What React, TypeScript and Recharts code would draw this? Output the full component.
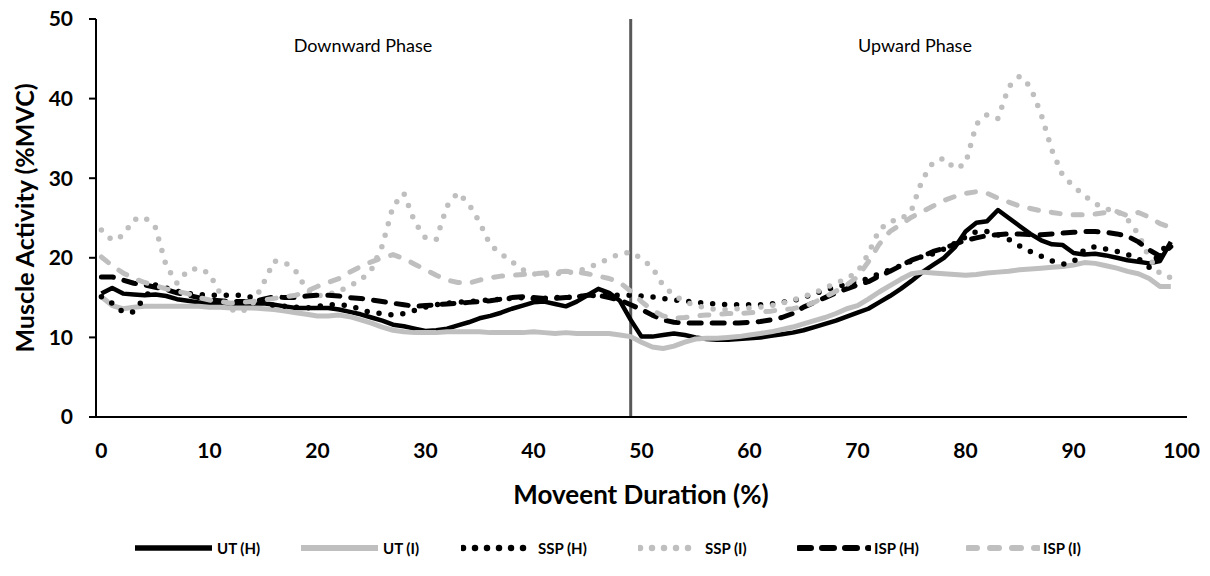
import React from 'react';
import { LineChart, Line, XAxis, YAxis, ReferenceLine } from 'recharts';

const X = [0,1,2,3,4,5,6,7,8,9,10,11,12,13,14,15,16,17,18,19,20,21,22,23,24,25,26,27,28,29,30,31,32,33,34,35,36,37,38,39,40,41,42,43,44,45,46,47,48,49,50,51,52,53,54,55,56,57,58,59,60,61,62,63,64,65,66,67,68,69,70,71,72,73,74,75,76,77,78,79,80,81,82,83,84,85,86,87,88,89,90,91,92,93,94,95,96,97,98,99];

const UT_H = [15.5,16.2,15.5,15.4,15.3,15.4,15.2,14.8,14.6,14.4,14.3,14.2,14.1,14.1,14.2,14.3,14.1,13.9,13.7,13.7,13.7,13.7,13.5,13.2,12.9,12.5,12.1,11.6,11.4,11.1,10.8,10.9,11.1,11.5,11.9,12.4,12.7,13.1,13.6,14.0,14.4,14.5,14.2,13.9,14.5,15.3,16.1,15.6,14.6,12.2,10.1,10.1,10.3,10.5,10.3,10.0,9.8,9.7,9.7,9.8,9.9,10.0,10.2,10.4,10.6,10.9,11.3,11.7,12.1,12.6,13.1,13.6,14.4,15.2,16.1,17.1,18.2,19.1,20.0,21.3,23.3,24.4,24.6,26.0,25.0,24.0,23.0,22.2,21.7,21.6,20.6,20.4,20.5,20.3,20.0,19.7,19.5,19.3,19.6,22.0];

const UT_I = [15.1,14.0,13.6,13.8,13.9,13.9,13.9,13.9,13.9,13.9,13.8,13.8,13.7,13.7,13.7,13.6,13.5,13.3,13.1,12.9,12.7,12.7,12.8,12.6,12.2,11.8,11.3,10.9,10.7,10.6,10.6,10.6,10.7,10.7,10.7,10.7,10.6,10.6,10.6,10.6,10.7,10.6,10.5,10.6,10.5,10.5,10.5,10.5,10.3,10.1,9.4,8.8,8.6,8.9,9.4,9.8,9.9,9.9,10.0,10.1,10.3,10.5,10.7,11.0,11.3,11.7,12.1,12.5,13.0,13.6,14.0,14.8,15.7,16.5,17.3,18.0,18.2,18.1,18.0,17.9,17.8,17.9,18.1,18.2,18.3,18.5,18.6,18.7,18.8,18.9,19.1,19.4,19.3,19.0,18.7,18.3,18.0,17.4,16.4,16.4];

const SSP_H = [15.1,14.3,13.2,13.2,15.0,16.6,16.2,15.8,15.5,15.4,15.3,15.3,15.3,15.3,15.0,14.4,14.0,13.9,13.8,13.7,13.9,14.1,14.1,14.0,13.5,13.1,13.0,12.8,13.0,13.4,13.8,14.1,14.3,14.4,14.5,14.6,14.7,14.8,14.9,15.0,14.9,14.9,15.0,15.0,15.1,15.2,15.3,15.3,15.3,15.3,15.2,15.1,14.9,14.7,14.6,14.4,14.3,14.2,14.1,14.1,14.1,14.1,14.2,14.4,14.6,15.0,15.5,15.9,16.3,16.7,17.0,17.4,18.0,18.5,19.0,19.6,20.2,20.5,21.1,21.8,22.6,23.3,23.3,22.9,22.3,21.5,20.8,20.2,19.6,19.2,19.5,21.0,21.4,21.1,20.8,20.4,19.9,18.8,20.6,22.2];

const SSP_I = [23.5,22.2,22.8,24.8,25.1,23.8,19.0,16.8,18.4,18.7,18.0,15.5,13.5,13.2,14.2,16.8,19.6,19.4,18.3,16.0,15.2,15.4,15.8,16.5,17.2,18.5,21.5,26.5,28.1,24.5,22.5,22.3,26.5,28.2,26.8,24.5,21.6,20.5,19.5,18.5,18.0,17.8,18.0,18.1,18.3,18.7,19.3,19.9,20.5,20.7,19.9,18.8,16.5,15.3,14.5,14.0,13.7,13.5,13.5,13.6,13.7,13.8,14.0,14.3,14.7,15.1,15.6,16.2,16.8,17.4,18.2,20.5,23.5,24.6,24.8,26.0,29.8,32.0,32.5,31.2,31.8,36.8,38.0,37.5,41.5,42.8,41.5,38.0,33.5,30.3,29.0,27.8,26.8,26.1,25.9,24.8,23.0,20.0,18.0,17.5];

const ISP_H = [17.6,17.6,17.2,16.8,16.6,16.3,16.0,15.6,15.3,15.0,14.7,14.6,14.5,14.5,14.5,14.8,15.1,15.0,15.0,15.2,15.3,15.3,15.2,15.0,14.9,14.7,14.5,14.3,14.1,13.9,14.0,14.1,14.2,14.3,14.4,14.5,14.6,14.8,15.0,15.1,15.0,14.9,14.9,15.0,15.1,15.3,15.3,15.0,14.7,14.1,13.5,12.8,12.2,11.9,11.8,11.8,11.8,11.8,11.8,11.8,11.9,12.0,12.2,12.5,13.0,13.8,14.4,15.0,15.6,16.1,16.6,17.0,17.7,18.3,19.0,19.7,20.2,20.8,21.2,21.7,22.2,22.5,22.8,22.9,23.0,23.0,22.9,22.9,23.0,23.1,23.2,23.3,23.3,23.2,23.0,22.7,22.0,21.0,20.2,21.4];

const ISP_I = [20.1,19.0,18.1,17.4,16.9,16.5,16.1,15.8,15.5,15.0,14.7,14.5,14.3,14.4,14.5,14.7,14.9,15.1,15.3,15.8,16.4,16.9,17.4,18.2,18.9,19.5,20.0,20.4,19.9,19.2,18.5,17.8,17.2,16.9,16.8,17.2,17.5,17.7,17.8,17.9,18.0,18.1,18.2,18.3,18.2,18.0,17.7,17.4,16.9,15.8,14.5,13.4,12.7,12.4,12.5,12.7,12.8,12.9,13.0,13.0,13.1,13.2,13.3,13.5,13.6,13.9,14.4,15.1,15.8,16.6,17.6,19.5,21.7,23.3,24.2,25.1,25.8,26.5,27.2,27.7,28.1,28.3,28.1,27.5,27.0,26.5,26.2,25.9,25.7,25.5,25.4,25.4,25.5,25.7,25.8,25.3,25.7,25.1,24.3,23.8];

const X_TICKS = [0, 10, 20, 30, 40, 50, 60, 70, 80, 90, 100];
const Y_TICKS = [0, 10, 20, 30, 40, 50];
const PHASE_SPLIT = 49;

const SERIES = [
  { key: 'utH', name: 'UT (H)', color: '#000000', width: 4.5, dash: undefined as string | undefined, cap: 'butt' },
  { key: 'utI', name: 'UT (I)', color: '#BFBFBF', width: 5, dash: undefined as string | undefined, cap: 'butt' },
  { key: 'sspH', name: 'SSP (H)', color: '#000000', width: 5.5, dash: '0 12', cap: 'round' },
  { key: 'sspI', name: 'SSP (I)', color: '#BFBFBF', width: 5.5, dash: '0 12', cap: 'round' },
  { key: 'ispH', name: 'ISP (H)', color: '#000000', width: 5, dash: '12 11', cap: 'round' },
  { key: 'ispI', name: 'ISP (I)', color: '#BFBFBF', width: 5, dash: '9 13', cap: 'round' },
];

const data = X.map((x, i) => ({
  x,
  utH: UT_H[i],
  utI: UT_I[i],
  sspH: SSP_H[i],
  sspI: SSP_I[i],
  ispH: ISP_H[i],
  ispI: ISP_I[i],
}));

const FONT = 'Lato, "Open Sans", sans-serif';

export default function App() {
  return (
    <div style={{ position: 'absolute', left: 0, top: 0, width: 1210, height: 576, background: '#fff', fontFamily: FONT }}>
      <LineChart width={1210} height={576} data={data} margin={{ top: 19, right: 23, left: 0, bottom: 129 }}>
        <XAxis
          dataKey="x"
          type="number"
          domain={[-0.5, 100.5]}
          ticks={X_TICKS}
          interval={0}
          tickLine={false}
          tickSize={0}
          tickMargin={26}
          axisLine={{ stroke: '#000', strokeWidth: 2 }}
          tick={{ fill: '#000', fontSize: 21, fontWeight: 700, fontFamily: FONT }}
          height={30}
        />
        <YAxis
          type="number"
          domain={[0, 50]}
          ticks={Y_TICKS}
          interval={0}
          width={96}
          tickSize={7}
          tickMargin={16}
          tickLine={{ stroke: '#000', strokeWidth: 2 }}
          axisLine={{ stroke: '#000', strokeWidth: 2 }}
          tick={{ fill: '#000', fontSize: 21, fontWeight: 700, fontFamily: FONT }}
        />
        <ReferenceLine x={PHASE_SPLIT} stroke="#595959" strokeWidth={3} />
        {SERIES.map((s) => (
          <Line
            key={s.key}
            dataKey={s.key}
            name={s.name}
            type="linear"
            stroke={s.color}
            strokeWidth={s.width}
            strokeDasharray={s.dash}
            strokeLinecap={s.cap as any}
            strokeLinejoin="round"
            dot={false}
            activeDot={false}
            isAnimationActive={false}
          />
        ))}
      </LineChart>

      <div style={{ position: 'absolute', left: 363, top: 45, transform: 'translate(-50%, -50%)', fontSize: 18, color: '#000', whiteSpace: 'nowrap' }}>Downward Phase</div>
      <div style={{ position: 'absolute', left: 915, top: 45, transform: 'translate(-50%, -50%)', fontSize: 18, color: '#000', whiteSpace: 'nowrap' }}>Upward Phase</div>

      <div style={{ position: 'absolute', left: 24, top: 218, transform: 'translate(-50%, -50%) rotate(-90deg)', fontSize: 25, fontWeight: 700, color: '#000', whiteSpace: 'nowrap' }}>Muscle Activity (%MVC)</div>
      <div style={{ position: 'absolute', left: 641, top: 494, transform: 'translate(-50%, -50%)', fontSize: 26, fontWeight: 700, color: '#000', whiteSpace: 'nowrap' }}>Moveent Duration (%)</div>

      <div style={{ position: 'absolute', left: 0, top: 536, width: 1210, height: 24 }}>
        {SERIES.map((s, i) => {
          const lefts = [133, 299, 461, 638, 797, 966];
          const lineW = [77, 77, 70, 60, 70, 70];
          return (
            <div key={s.key} style={{ position: 'absolute', left: lefts[i], top: 0, height: 24, display: 'flex', alignItems: 'center' }}>
              <svg width={lineW[i] + 4} height={24} style={{ display: 'block' }}>
                <line x1={2} y1={12} x2={lineW[i] + 2} y2={12} stroke={s.color} strokeWidth={s.width + 1} strokeDasharray={s.dash} strokeLinecap={s.cap as any} />
              </svg>
              <span style={{ fontSize: 15, fontWeight: 700, color: '#000', marginLeft: 3, whiteSpace: 'nowrap' }}>{s.name}</span>
            </div>
          );
        })}
      </div>
    </div>
  );
}
